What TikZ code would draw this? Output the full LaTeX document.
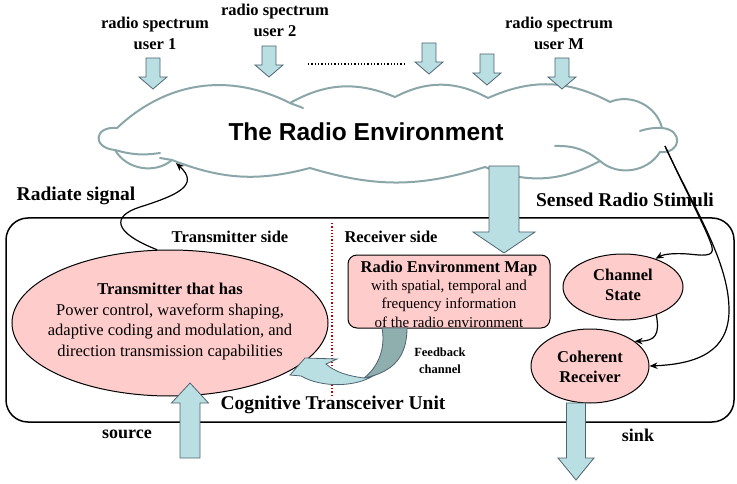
\documentclass[tikz,border=0pt]{standalone}
\usepackage{fontspec}
\setmainfont{Liberation Serif}
\newfontfamily\arialfont{Liberation Sans}
\usetikzlibrary{shapes.geometric,arrows.meta}
\definecolor{arrfill}{HTML}{B9DFE2}
\definecolor{arrline}{HTML}{4F6470}
\definecolor{cloudc}{HTML}{8BA6A8}
\definecolor{pinkf}{HTML}{FFCCCC}
\definecolor{fbdark}{HTML}{8FAEAE}
\definecolor{dotred}{HTML}{C00000}
\newcommand\myfs[2]{\fontsize{#1}{#2}\selectfont}
\newcommand\blockarrow[6]{%
  \draw[blockarr] ({#1-#5},#2) -- ({#1+#5},#2) -- ({#1+#5},#3) -- ({#1+#6},#3)
    -- (#1,#4) -- ({#1-#6},#3) -- ({#1-#5},#3) -- cycle;}
\begin{document}
\begin{tikzpicture}[x=1pt,y=-1pt,
  lbl/.style={font=\bfseries\myfs{16.5}{21}, align=center, inner sep=0},
  biglbl/.style={font=\bfseries\myfs{19.5}{23}, align=center, inner sep=0},
  blockarr/.style={fill=arrfill, draw=arrline, line width=0.8pt, line join=miter},
  conn/.style={draw=black, line width=1.2pt, -{Stealth[length=8pt,width=6.5pt]}},
  pinkell/.style={ellipse, draw=black, line width=1pt, fill=pinkf, inner sep=0},
  cloudline/.style={draw=cloudc, line width=2pt, line cap=round}]
\useasboundingbox (0,0) rectangle (737,484);

% cloud
\draw[cloudline, fill=white] (117,128) to[bend left=35] (290,103) to[bend left=26] (395,97)
  to[bend left=28] (488,98) to[bend left=26] (610,102) to[bend left=50] (662,128)
  to[bend left=90, looseness=2.3] (660,152) to[bend left=50] (600,161) to[bend left=25] (485,167)
  to[bend left=17] (310,168) to[bend left=18] (172,160) to[bend left=50] (115,150)
  to[bend left=90, looseness=2.7] cycle;
\draw[cloudline] (115,150) to[bend right=12] (160,153);
\draw[cloudline] (290,103) -- (303,108);
\draw[cloudline] (640,131) to[bend left=10] (662,128);
\draw[cloudline] (555,146) to[bend left=20] (600,161);
\draw[cloudline] (172,160) -- (160,158);
\node[font=\arialfont\bfseries\myfs{24.5}{28}, inner sep=0] (env) at (366,132) {The Radio Environment};

% spectrum users
\node[lbl] (u1) at (155,33.5) {radio spectrum\\user 1};
\node[lbl] (u2) at (275,20.5) {radio spectrum\\user 2};
\node[lbl] (um) at (559,33.5) {radio spectrum\\user M};
\blockarrow{153}{58}{77}{89}{7}{14}
\blockarrow{269}{46}{65}{77}{7}{14}
\blockarrow{429}{43}{62}{74}{7}{14}
\blockarrow{487}{54}{73}{85}{7}{14}
\blockarrow{562}{58}{77}{89}{7}{14}
\draw[line width=1.3pt, dotted] (308,64) -- (406,64);

% unit box
\draw[line width=1.5pt, rounded corners=22] (6,218) rectangle (734,422);
\draw[dotred, line width=1.3pt, dotted] (332,223) -- (332,397);
\node[biglbl] (rad) at (76,196) {Radiate signal};
\node[biglbl] (sens) at (625,200) {Sensed Radio Stimuli};
\node[lbl] (txside) at (230,237) {Transmitter side};
\node[lbl] (rxside) at (391,237) {Receiver side};
\node[biglbl] (ctu) at (333,405) {Cognitive Transceiver Unit};
\node[font=\bfseries\myfs{18}{21}, inner sep=0] (src) at (127,434) {source};
\node[font=\bfseries\myfs{18}{21}, inner sep=0] (snk) at (638,435) {sink};

% transmitter
\node[pinkell, minimum width=316, minimum height=146] (tx) at (170,323) {};
\node[align=center, inner sep=0, font=\myfs{16.5}{20.4}] (txt) at (170,321.5)
  {\textbf{Transmitter that has}\\Power control, waveform shaping,\\adaptive coding and modulation, and\\direction transmission capabilities};

% REM
\node[draw=black, line width=1pt, fill=pinkf, rounded corners=9, minimum width=202, minimum height=73, inner sep=0] (rem) at (449,291.5) {};
\node[align=center, inner sep=0, font=\myfs{15}{18.3}] (remt) at (449,294)
  {{\bfseries\myfs{16.5}{18.3}Radio Environment Map}\\with spatial, temporal and\\frequency information\\of the radio environment};

% channel state / coherent receiver
\node[pinkell, minimum width=120, minimum height=66] (cs) at (623,287) {};
\node[lbl, font=\bfseries\myfs{16.5}{20}] (cst) at (623,285) {Channel\\State};
\node[pinkell, minimum width=118, minimum height=74] (cr) at (590,366) {};
\node[lbl, font=\bfseries\myfs{16.5}{20}] (crt) at (590,367) {Coherent\\Receiver};

% block arrows
\blockarrow{504}{166}{232}{253}{15}{31}
\blockarrow{190}{458}{403}{383}{10}{18.5}
\blockarrow{576}{403}{458}{480}{9.5}{18}

% feedback arrow
\draw[fill=fbdark, draw=arrline, line width=0.8pt] (382,328) -- (407,328)
  .. controls (407,355) and (395,372) .. (364,378)
  .. controls (377,368) and (386,350) .. (382,328) -- cycle;
\draw[fill=arrfill, draw=arrline, line width=0.8pt, line join=miter] (290,375) -- (305,358) -- (337,359) -- (326,364)
  .. controls (335,372) and (348,376) .. (364,378)
  .. controls (366,378) and (370,377) .. (373,376)
  .. controls (355,387) and (322,388) .. (301,376) -- cycle;
\node[font=\bfseries\myfs{12.5}{17}, align=center, inner sep=0] (fb) at (440,360.5) {Feedback\\channel};

% connectors
\coordinate (radend) at (176,163);
\coordinate (senstart) at (665,146);
\draw[conn] (tx.100) .. controls (112,232) and (112,216) .. (140,207)
  .. controls (178,195) and (200,185) .. (radend);
\draw[conn] (senstart) .. controls (690,200) and (708,232) .. (712,247)
  .. controls (715,258) and (700,255) .. (688,254)
  .. controls (675,253) and (664,254) .. (cs.41);
\draw[conn] (senstart) .. controls (692,205) and (730,262) .. (729,312)
  .. controls (728,350) and (700,364) .. (cr.east);
\draw[conn] (cs.-40) .. controls (660,335) and (655,341) .. (cr.29);
\end{tikzpicture}
\end{document}
